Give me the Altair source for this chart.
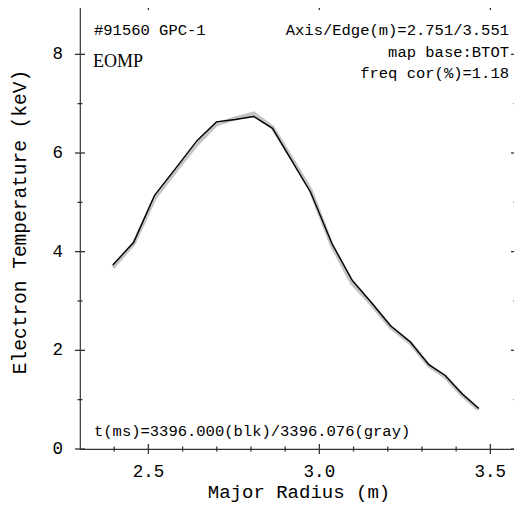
import altair as alt
import pandas as pd

# ---- data ----
r_blk = [2.396, 2.457, 2.518, 2.582, 2.642, 2.699, 2.754, 2.808, 2.863, 2.918,
         2.974, 3.037, 3.096, 3.152, 3.208, 3.266, 3.320, 3.368, 3.417, 3.466]
te_blk = [3.73, 4.19, 5.14, 5.71, 6.25, 6.63, 6.68, 6.74, 6.50, 5.86,
          5.21, 4.16, 3.42, 2.97, 2.50, 2.17, 1.71, 1.49, 1.12, 0.82]

r_gray = [2.396, 2.457, 2.518, 2.582, 2.642, 2.699, 2.754, 2.808, 2.863, 2.918,
          2.974, 3.037, 3.096, 3.152, 3.208, 3.266, 3.320, 3.368, 3.417, 3.466]
te_gray = [3.68, 4.16, 5.08, 5.66, 6.18, 6.58, 6.70, 6.80, 6.52, 5.90,
           5.25, 4.12, 3.36, 2.94, 2.47, 2.15, 1.69, 1.46, 1.10, 0.80]

x_major = [2.5, 3.0, 3.5]
x_minor = [2.4, 2.6, 2.7, 2.8, 2.9, 3.1, 3.2, 3.3, 3.4]
y_major = [0, 2, 4, 6, 8]
y_minor = [1, 3, 5, 7]

x_title = "Major Radius (m)"
y_title = "Electron Temperature (keV)"

df_blk = pd.DataFrame({"r": r_blk, "te": te_blk})
df_gray = pd.DataFrame({"r": r_gray, "te": te_gray})

W, H = 436, 444
xs = alt.Scale(domain=[2.3, 3.575], nice=False, zero=False)
ys = alt.Scale(domain=[0, 9], nice=False, zero=False)

FRAME = "#333333"
MONO = "Liberation Mono"

gray = alt.Chart(df_gray).mark_line(color="#c4c4c4", strokeWidth=4).encode(
    x=alt.X("r:Q", scale=xs, axis=None),
    y=alt.Y("te:Q", scale=ys, axis=None),
)
blk = alt.Chart(df_blk).mark_line(color="black", strokeWidth=1.4).encode(
    x=alt.X("r:Q", scale=xs, axis=None),
    y=alt.Y("te:Q", scale=ys, axis=None),
)

VSEG = "M0,-1L0,1"
HSEG = "M-1,0L1,0"


def xticks(values, size, at):
    d = pd.DataFrame({"v": values})
    return alt.Chart(d).mark_point(shape=VSEG, size=size, filled=False,
                                   stroke=FRAME, strokeWidth=1.3, opacity=1).encode(
        x=alt.X("v:Q", scale=xs, axis=None), y=alt.value(at))


def yticks(values, size, at):
    d = pd.DataFrame({"v": values})
    return alt.Chart(d).mark_point(shape=HSEG, size=size, filled=False,
                                   stroke=FRAME, strokeWidth=1.3, opacity=1).encode(
        y=alt.Y("v:Q", scale=ys, axis=None), x=alt.value(at))


ticks = [
    xticks(x_major, 100, H), xticks(x_minor, 25, H),
    xticks(x_major, 100, 0), xticks(x_minor, 25, 0),
    yticks(y_major, 100, 0), yticks(y_minor, 25, 0),
    yticks(y_major, 100, W), yticks(y_minor, 25, W),
]

# tick labels, placed through the scales
x_labels = alt.Chart(pd.DataFrame({"v": x_major})).mark_text(
    font=MONO, fontSize=17.5, color="black", baseline="middle", align="center"
).encode(x=alt.X("v:Q", scale=xs, axis=None), y=alt.value(H + 23),
         text=alt.Text("v:Q", format=".1f"))
y_labels = alt.Chart(pd.DataFrame({"v": y_major})).mark_text(
    font=MONO, fontSize=17.5, color="black", baseline="middle", align="right"
).encode(y=alt.Y("v:Q", scale=ys, axis=None), x=alt.value(-17),
         text=alt.Text("v:Q", format="d"))

one = alt.Data(values=[{}])


def label(text, x, y, align="left", font=MONO, size=15.5, angle=0):
    return alt.Chart(one).mark_text(text=text, align=align, baseline="middle",
                                    font=font, fontSize=size, color="black",
                                    angle=angle).encode(
        x=alt.value(x), y=alt.value(y))


texts = [
    label(x_title, 219, H + 43, align="center", size=19),
    label(y_title, -60, 217, align="center", size=19.5, angle=270),
    label("#91560 GPC-1", 14, 25),
    label("EOMP", 13, 57, font="Liberation Serif", size=18),
    label("Axis/Edge(m)=2.751/3.551", 429, 25, align="right"),
    label("map base:BTOT", 429, 47, align="right"),
    label("freq cor(%)=1.18", 429, 68, align="right"),
    label("t(ms)=3396.000(blk)/3396.076(gray)", 14, 426),
]

chart = alt.layer(gray, blk, *ticks, x_labels, y_labels, *texts).properties(
    width=W, height=H,
    autosize=alt.AutoSizeParams(type="none"),
    padding={"left": 72, "top": -3, "right": -2, "bottom": 56},
).configure_view(stroke=FRAME, strokeWidth=1.2)

chart.save("out.html", embed_options={"renderer": "svg", "actions": False})
